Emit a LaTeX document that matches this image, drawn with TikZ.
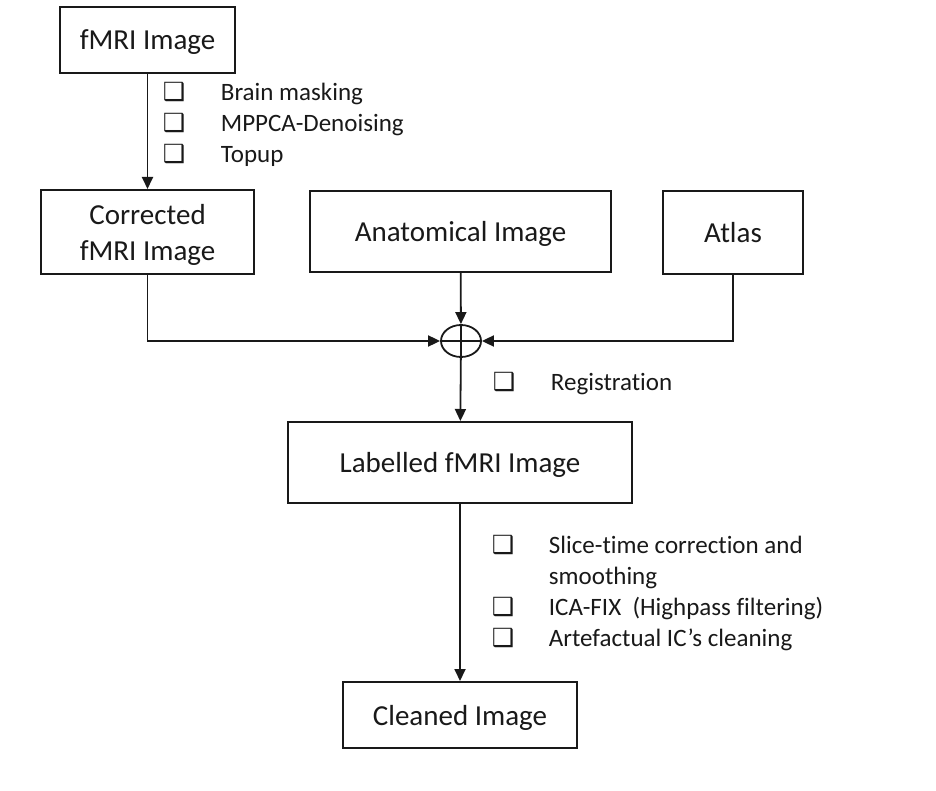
\documentclass[tikz,border=0pt]{standalone}
\usepackage{fontspec}
\setmainfont{Carlito}[Ligatures=NoCommon]
\newfontfamily\boxsym{DejaVu Sans}
\usetikzlibrary{arrows.meta,shapes.geometric}
\tikzset{
	blk/.style={draw,line width=2pt,align=center,inner sep=0pt,text depth=0pt,font=\fontsize{29}{36}\selectfont},
	itm/.style={anchor=base west,inner sep=0pt,font=\fontsize{25}{31}\selectfont},
	chk/.style={anchor=base west,inner sep=0pt,font=\boxsym\fontsize{25}{31}\selectfont},
}
\begin{document}
\begin{tikzpicture}[>={Triangle[length=12pt,width=11pt]},x=1pt,y=-1pt,line width=1.8pt,color={black!90}]
	\useasboundingbox (0,0) rectangle (936,791);
	% boxes
	\node[blk,minimum width=175,minimum height=66] (fmri) at (147.5,40) {fMRI Image};
	\node[blk,minimum width=213,minimum height=84] (corr) at (147.5,232) {Corrected\\fMRI Image};
	\node[blk,minimum width=301,minimum height=81] (anat) at (460.5,231.5) {Anatomical Image};
	\node[blk,minimum width=140,minimum height=83] (atlas) at (733,232.5) {Atlas};
	\node[draw,ellipse,inner sep=0pt,minimum width=40,minimum height=32] (sum) at (461,341) {};
	\node[blk,minimum width=344,minimum height=81] (lab) at (460,462.5) {Labelled fMRI Image};
	\node[blk,minimum width=234,minimum height=66] (clean) at (460,715) {Cleaned Image};
	% steps
	\foreach \y/\t [count=\i] in {101/Brain masking,132/MPPCA-Denoising,163/Topup}{
		\node[chk] (pa\i) at (162,\y) {❑};
		\node[itm] (pt\i) at (220,\y) {\t};
	}
	\node[chk] (rg) at (492,390) {❑};
	\node[itm] (rgt) at (550,390) {Registration};
	\foreach \y/\t [count=\i] in {553/Slice-time correction and,615/ICA-FIX~~(Highpass filtering),646/Artefactual IC’s cleaning}{
		\node[chk] (cl\i) at (491,\y) {❑};
		\node[itm] (ct\i) at (548,\y) {\t};
	}
	\node[itm] (ct0) at (548,584) {smoothing};
	% arrows
	\draw[->] (fmri) -- (corr);
	\draw[->] (corr.south) |- (sum.west);
	\draw[->] (anat) -- (sum);
	\draw[->] (atlas.south) |- (sum.east);
	\draw (sum.north) -- (sum.south) (sum.west) -- (sum.east);
	\draw[->] (sum) -- (lab);
	\draw[->] (lab) -- (clean);
\end{tikzpicture}
\end{document}
